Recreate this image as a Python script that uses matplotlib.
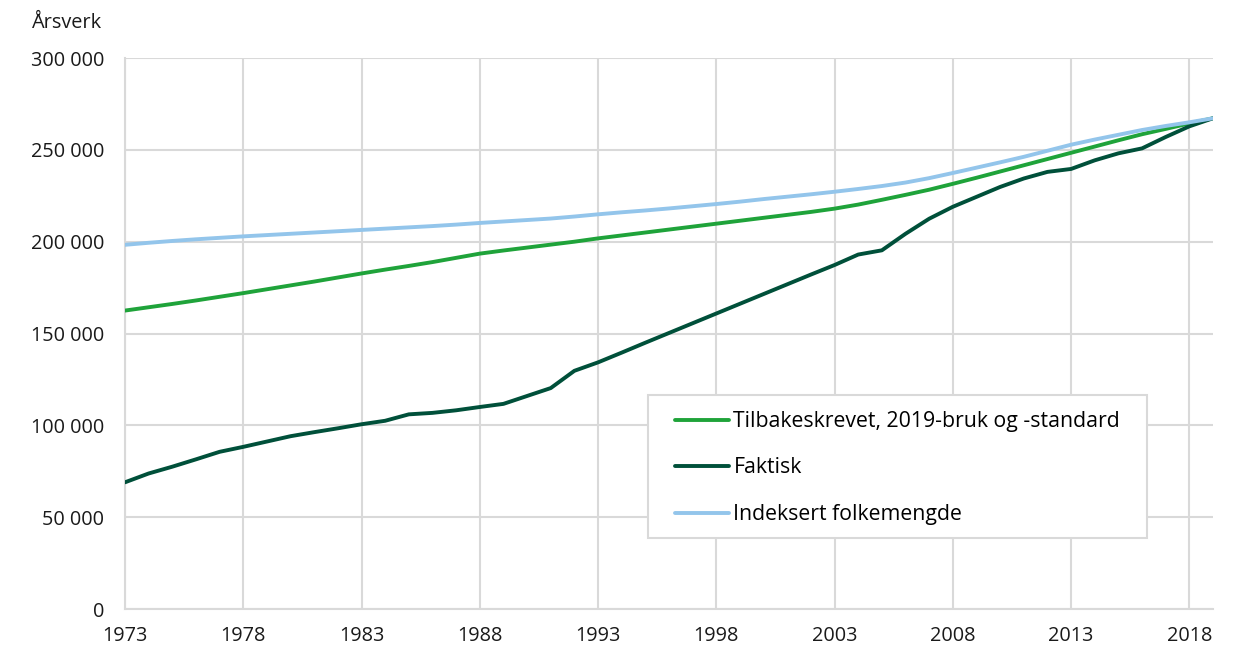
import matplotlib
matplotlib.use("Agg")
import matplotlib.pyplot as plt
from matplotlib.ticker import FuncFormatter
from matplotlib.patches import Rectangle

plt.rcParams['font.family'] = ['Open Sans', 'DejaVu Sans']

years = list(range(1973, 2020))

tilbakeskrevet = [162500, 164300, 166100, 168000, 170000, 172000, 174100, 176200, 178300, 180500,
                  182700, 184800, 186800, 188900, 191200, 193500, 195200, 196800, 198400, 200000,
                  201800, 203400, 205000, 206600, 208200, 209800, 211400, 213000, 214600, 216200,
                  218000, 220200, 222800, 225500, 228300, 231500, 234800, 238200, 241600, 245000,
                  248400, 251800, 255200, 258500, 261400, 264400, 267200]

faktisk = [69000, 73800, 77500, 81500, 85600, 88300, 91200, 94100, 96300, 98400,
           100600, 102500, 106000, 106800, 108200, 110000, 111700, 116000, 120300, 129700,
           134300, 139600, 145000, 150300, 155600, 160900, 166200, 171500, 176800, 182100,
           187300, 193000, 195300, 204300, 212500, 219000, 224400, 229800, 234400, 238000,
           239600, 244300, 248100, 250800, 257000, 262800, 267200]

folkemengde = [198300, 199400, 200400, 201300, 202100, 202900, 203600, 204300, 205000, 205700,
               206400, 207100, 207800, 208500, 209300, 210200, 211000, 211800, 212600, 213700,
               214900, 216000, 217000, 218100, 219300, 220500, 221800, 223200, 224500, 225800,
               227200, 228700, 230300, 232200, 234600, 237400, 240300, 243200, 246200, 249500,
               252800, 255600, 258200, 260800, 263000, 265000, 267200]

labels = ["Tilbakeskrevet, 2019-bruk og -standard", "Faktisk", "Indeksert folkemengde"]
colors = ["#1fa33a", "#00503a", "#93c5eb"]
xticks = list(range(1973, 2019, 5))
yticks = [0, 50000, 100000, 150000, 200000, 250000, 300000]

fig = plt.figure(figsize=(12.5, 6.57), dpi=100)
ax = fig.add_axes([0.1, 0.073, 0.8704, 0.8387])

for series, lab, col in zip([tilbakeskrevet, faktisk, folkemengde], labels, colors):
    ax.plot(years, series, color=col, lw=2.8, label=lab, solid_capstyle='round', zorder=3)

ax.set_xlim(1973, 2019)
ax.set_ylim(0, 300000)
ax.set_xticks(xticks)
ax.set_yticks(yticks)
ax.yaxis.set_major_formatter(FuncFormatter(lambda v, p: f"{int(v):,}".replace(",", " ")))
ax.grid(True, color="#d9d9d9", lw=1.5, zorder=0)
ax.set_axisbelow(True)
for s in ["top", "right"]:
    ax.spines[s].set_visible(False)
for s in ["left", "bottom"]:
    ax.spines[s].set_color("#d9d9d9")
    ax.spines[s].set_linewidth(1.5)
ax.tick_params(axis="both", length=0, labelsize=14.3, colors="#1a1a1a")
ax.tick_params(axis="y", pad=15)
ax.tick_params(axis="x", pad=12)

fig.text(0.0816, 0.965, "Årsverk", ha="right", va="center", fontsize=14.3, color="#1a1a1a")

# legend frame
ax.add_patch(Rectangle((0.4807, 0.1289), 0.4586, 0.2595, transform=ax.transAxes,
                       facecolor="white", edgecolor="#d9d9d9", lw=1.5, zorder=4))
leg = ax.legend(loc="center left", bbox_to_anchor=(0.5055, 0.2560), borderaxespad=0,
                borderpad=0, fontsize=15.3, frameon=False,
                handlelength=2.55, handletextpad=0.2, labelspacing=1.2)
leg.set_zorder(5)

fig.savefig("out.png", dpi=100)
